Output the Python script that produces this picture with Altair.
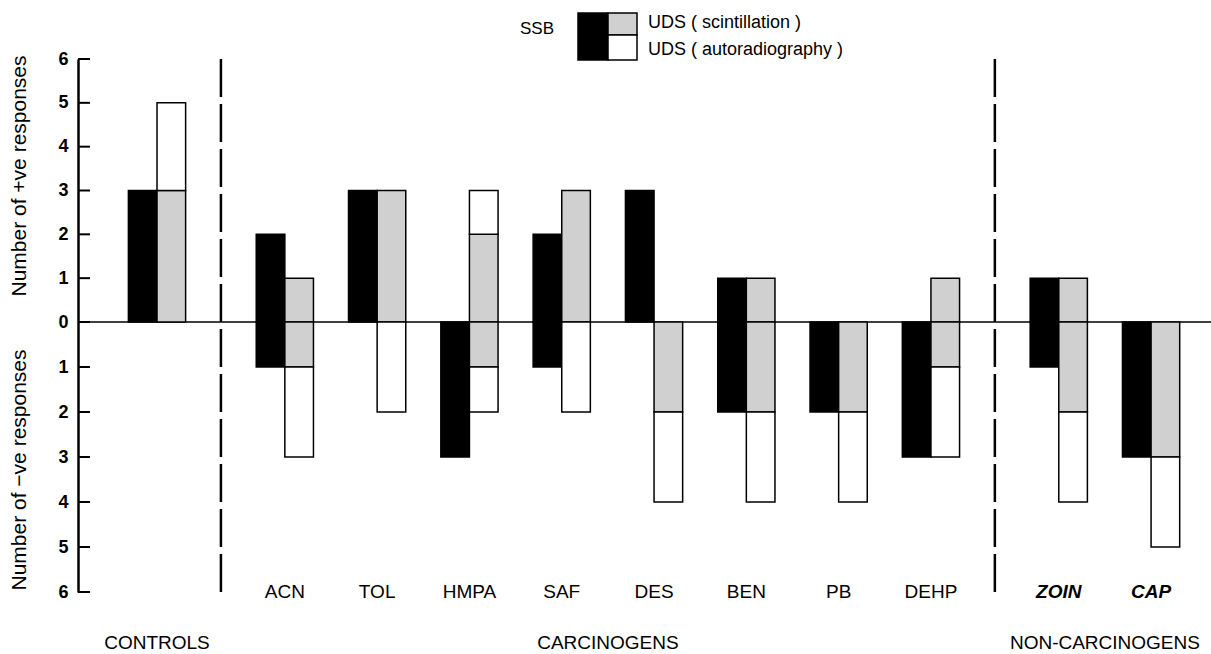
import altair as alt
import pandas as pd

# Compounds in display order, with the section each belongs to
COMPOUNDS = ["Controls", "ACN", "TOL", "HMPA", "SAF", "DES", "BEN", "PB", "DEHP", "ZOIN", "CAP"]
LABELS = ["", "ACN", "TOL", "HMPA", "SAF", "DES", "BEN", "PB", "DEHP", "ZOIN", "CAP"]
SECTIONS = ["CONTROLS", "CARCINOGENS", "NON-CARCINOGENS"]
SECTION_OF = [0, 1, 1, 1, 1, 1, 1, 1, 1, 2, 2]

# Number of positive / negative responses per assay
SSB_POS = [3, 2, 3, 0, 2, 3, 1, 0, 0, 1, 0]
SSB_NEG = [0, 1, 0, 3, 1, 0, 2, 2, 3, 1, 3]
SCINT_POS = [3, 1, 3, 2, 3, 0, 1, 0, 1, 1, 0]
SCINT_NEG = [0, 1, 0, 1, 0, 2, 2, 2, 1, 2, 3]
AUTO_POS = [2, 0, 0, 1, 0, 0, 0, 0, 0, 0, 0]
AUTO_NEG = [0, 2, 2, 1, 2, 2, 2, 2, 2, 2, 2]

Y_TICKS = list(range(-6, 7))

KINDS = ["SSB", "UDS (scintillation)", "UDS (autoradiography)"]
FILLS = ["black", "#d0d0d0", "white"]

FONT = "Liberation Sans"
W, H = 1133, 533
SECTION_GAP = 0.385   # extra spacing between sections, in group widths
HALF = 0.31           # width of each bar, in group widths

pos = [i + SECTION_GAP * s for i, s in enumerate(SECTION_OF)]

rows = []
for i, p in enumerate(pos):
    def add(kind, x0, x1, y0, y1):
        if y0 != y1:
            rows.append(dict(compound=COMPOUNDS[i], kind=kind, x0=x0, x1=x1, y0=y0, y1=y1))
    add(KINDS[0], p - HALF, p, 0, SSB_POS[i])
    add(KINDS[0], p - HALF, p, -SSB_NEG[i], 0)
    add(KINDS[1], p, p + HALF, 0, SCINT_POS[i])
    add(KINDS[2], p, p + HALF, SCINT_POS[i], SCINT_POS[i] + AUTO_POS[i])
    add(KINDS[1], p, p + HALF, -SCINT_NEG[i], 0)
    add(KINDS[2], p, p + HALF, -SCINT_NEG[i] - AUTO_NEG[i], -SCINT_NEG[i])
bars_df = pd.DataFrame(rows)

x_scale = alt.Scale(domain=[-0.856, -0.856 + W / 92.3], nice=False, zero=False)
y_scale = alt.Scale(domain=[-6, 0, 6], range=[H, 263, 0], nice=False, zero=False)
y_axis = alt.Axis(
    values=Y_TICKS, labelExpr="abs(datum.value)", title=None, grid=False, ticks=False,
    domainColor="black", domainWidth=2.5, labelFontSize=18, labelFontWeight="bold",
    labelFont=FONT, labelColor="black", labelPadding=10)

labels_df = pd.DataFrame({"pos": pos, "label": LABELS, "section": SECTION_OF})

sec_df = pd.DataFrame({
    "section": SECTIONS,
    "pos": [sum(p for p, s in zip(pos, SECTION_OF) if s == k) / SECTION_OF.count(k)
            for k in range(len(SECTIONS))],
})
bounds_df = pd.DataFrame({
    "b": [(pos[i] + pos[i + 1]) / 2 for i in range(len(pos) - 1) if SECTION_OF[i] != SECTION_OF[i + 1]]
})

zero_line = alt.Chart(pd.DataFrame({"v": [0]})).mark_rule(color="black", strokeWidth=1.6).encode(
    y=alt.Y("v:Q", scale=y_scale, axis=y_axis), x=alt.value(0), x2=alt.value(W)
)

bars = alt.Chart(bars_df).mark_rect(stroke="black", strokeWidth=1.5).encode(
    x=alt.X("x0:Q", scale=x_scale, axis=None),
    x2="x1:Q",
    y=alt.Y("y0:Q", scale=y_scale, axis=y_axis),
    y2="y1:Q",
    fill=alt.Fill("kind:N", scale=alt.Scale(domain=KINDS, range=FILLS), legend=None),
)

ticks = alt.Chart(pd.DataFrame({"v": Y_TICKS})).mark_rule(color="black", strokeWidth=2).encode(
    y=alt.Y("v:Q", scale=y_scale, axis=y_axis), x=alt.value(0), x2=alt.value(12)
)

dividers = alt.Chart(bounds_df).mark_rule(color="black", strokeWidth=2.5, strokeDash=[38, 7]).encode(
    x=alt.X("b:Q", scale=x_scale, axis=None), y=alt.value(0), y2=alt.value(H)
)

cat_plain = alt.Chart(labels_df).transform_filter("datum.section < 2").mark_text(
    font=FONT, fontSize=19, color="black", baseline="middle").encode(
    x=alt.X("pos:Q", scale=x_scale, axis=None), y=alt.value(H), text="label:N")
cat_italic = alt.Chart(labels_df).transform_filter("datum.section == 2").mark_text(
    font=FONT, fontSize=19, color="black", baseline="middle", fontWeight="bold", fontStyle="italic").encode(
    x=alt.X("pos:Q", scale=x_scale, axis=None), y=alt.value(H), text="label:N")

sections = alt.Chart(sec_df).mark_text(font=FONT, fontSize=19, color="black", baseline="middle").encode(
    x=alt.X("pos:Q", scale=x_scale, axis=None), y=alt.value(H + 51), text="section:N")

ytitle_pos = alt.Chart(pd.DataFrame({"t": ["Number of +ve responses"]})).mark_text(
    font=FONT, fontSize=21, angle=270, color="black", baseline="middle").encode(
    x=alt.value(-58), y=alt.value(117), text="t:N")
ytitle_neg = alt.Chart(pd.DataFrame({"t": ["Number of \u2212ve responses"]})).mark_text(
    font=FONT, fontSize=21, angle=270, color="black", baseline="middle").encode(
    x=alt.value(-58), y=alt.value(411), text="t:N")

# Key drawn above the plot
key_df = pd.DataFrame({"k": [0]})
key_black = alt.Chart(key_df).mark_rect(fill="black", stroke="black", strokeWidth=1.5).encode(
    x=alt.value(500), x2=alt.value(530), y=alt.value(-46), y2=alt.value(1))
key_scint = alt.Chart(key_df).mark_rect(fill=FILLS[1], stroke="black", strokeWidth=1.5).encode(
    x=alt.value(530), x2=alt.value(559), y=alt.value(-46), y2=alt.value(-24))
key_auto = alt.Chart(key_df).mark_rect(fill="white", stroke="black", strokeWidth=1.5).encode(
    x=alt.value(530), x2=alt.value(559), y=alt.value(-24), y2=alt.value(1))
key_ssb = alt.Chart(pd.DataFrame({"t": ["SSB"]})).mark_text(
    font=FONT, fontSize=17, color="black", align="right", baseline="middle").encode(
    x=alt.value(476), y=alt.value(-30), text="t:N")
key_texts = alt.Chart(pd.DataFrame({"t": ["UDS ( scintillation )", "UDS ( autoradiography )"],
                                    "y": [-36, -9]})).mark_text(
    font=FONT, fontSize=18, color="black", align="left", baseline="middle").encode(
    x=alt.value(570), y=alt.Y("y:Q", scale=None), text="t:N")

chart = alt.layer(
    zero_line, bars, ticks, dividers, cat_plain, cat_italic, sections,
    ytitle_pos, ytitle_neg, key_black, key_scint, key_auto, key_ssb, key_texts,
).properties(
    width=W, height=H,
    autosize=alt.AutoSizeParams(type="none"),
    padding={"left": 78, "top": 59, "right": 0, "bottom": 62},
    background="white",
).configure_view(stroke=None)

chart.save("out.html", embed_options={"renderer": "svg", "actions": False})
